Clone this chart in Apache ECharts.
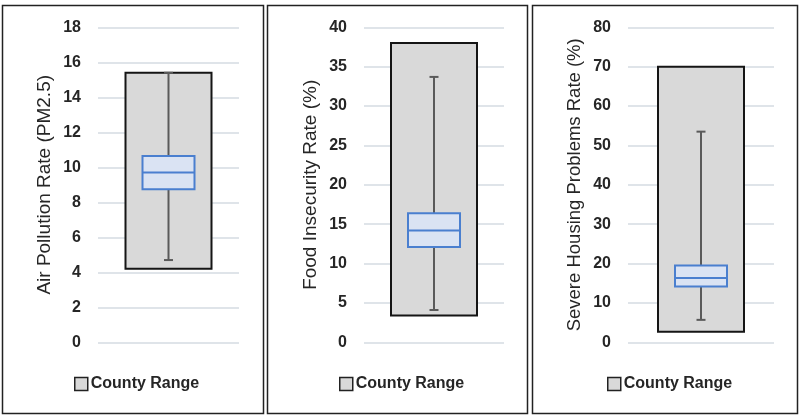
<!DOCTYPE html>
<html>
<head>
<meta charset="utf-8">
<script src="https://cdn.jsdelivr.net/npm/echarts@6/dist/echarts.min.js"></script>
<style>html,body{margin:0;padding:0;background:#fff}#c{width:800px;height:417px}</style>
</head>
<body>
<div id="c"></div>
<script>
// ---- data ----
const axisTitles = ['Air Pollution Rate (PM2.5)', 'Food Insecurity Rate (%)', 'Severe Housing Problems Rate (%)'];
const axisMax = [18, 40, 80];
const axisInterval = [2, 5, 10];
const rangeMin = [4.2, 3.4, 2.7];
const rangeMax = [15.4, 38, 70];
const whiskerLow = [4.7, 4.1, 5.7];
const q1 = [8.75, 12.1, 14.2];
const median = [9.7, 14.2, 16.3];
const q3 = [10.65, 16.4, 19.5];
const whiskerHigh = [15.4, 33.7, 53.5];
const legendName = 'County Range';

// ---- layout ----
const grids = [
  {left: 98, width: 141},
  {left: 364, width: 140},
  {left: 628, width: 146}
];
const frames = [
  {x: 2.5, w: 261},
  {x: 267.5, w: 260},
  {x: 532.5, w: 265}
];
const legendLeft = [74, 339, 607];
const fontFam = '"Liberation Sans", Arial, sans-serif';

const chart = echarts.init(document.getElementById('c'));

function rangeRender(params, api) {
  const lo = api.coord([api.value(0), api.value(1)]);
  const hi = api.coord([api.value(0), api.value(2)]);
  const w = 86;
  return {
    type: 'rect',
    shape: {x: lo[0] - w / 2, y: hi[1], width: w, height: lo[1] - hi[1]},
    style: {fill: '#d9d9d9', stroke: '#151515', lineWidth: 2}
  };
}
function boxRender(params, api) {
  const x = api.value(0);
  const pLow = api.coord([x, api.value(1)]);
  const pQ1 = api.coord([x, api.value(2)]);
  const pMed = api.coord([x, api.value(3)]);
  const pQ3 = api.coord([x, api.value(4)]);
  const pHigh = api.coord([x, api.value(5)]);
  const cx = pLow[0];
  const bw = 52, cw = 9;
  const wStyle = {stroke: '#5a5a5a', lineWidth: 2};
  return {
    type: 'group',
    children: [
      {type: 'line', shape: {x1: cx, y1: pHigh[1], x2: cx, y2: pLow[1]}, style: wStyle},
      {type: 'line', shape: {x1: cx - cw / 2, y1: pHigh[1], x2: cx + cw / 2, y2: pHigh[1]}, style: wStyle},
      {type: 'line', shape: {x1: cx - cw / 2, y1: pLow[1], x2: cx + cw / 2, y2: pLow[1]}, style: wStyle},
      {type: 'rect', shape: {x: cx - bw / 2, y: pQ3[1], width: bw, height: pQ1[1] - pQ3[1]},
        style: {fill: '#dae3f3', stroke: '#4a7fcf', lineWidth: 2}},
      {type: 'line', shape: {x1: cx - bw / 2, y1: pMed[1], x2: cx + bw / 2, y2: pMed[1]},
        style: {stroke: '#4a7fcf', lineWidth: 2}}
    ]
  };
}

const option = {
  animation: false,
  backgroundColor: '#fff',
  grid: grids.map(g => ({left: g.left, width: g.width, top: 27.3, height: 315})),
  xAxis: grids.map((g, i) => ({
    type: 'category', gridIndex: i, data: ['County'],
    axisLine: {show: false}, axisTick: {show: false}, axisLabel: {show: false}, splitLine: {show: false}
  })),
  yAxis: grids.map((g, i) => ({
    type: 'value', gridIndex: i, min: 0, max: axisMax[i], interval: axisInterval[i],
    name: axisTitles[i], nameLocation: 'middle', nameGap: 44,
    nameTextStyle: {fontFamily: fontFam, fontSize: i === 2 ? 18.5 : 19, color: '#262626'},
    axisLine: {show: false}, axisTick: {show: false},
    axisLabel: {margin: 17, fontFamily: fontFam, fontSize: 16, fontWeight: 'bold', color: '#262626'},
    splitLine: {lineStyle: {color: '#d5dbe2', width: 1.5}}
  })),
  legend: legendLeft.map(l => ({
    left: l, top: 376, padding: 0, data: [legendName], icon: 'rect', itemWidth: 13, itemHeight: 13, itemGap: 5,
    selectedMode: false,
    itemStyle: {color: '#d9d9d9', borderColor: '#222', borderWidth: 1.5},
    textStyle: {fontFamily: fontFam, fontSize: 16, fontWeight: 'bold', color: '#262626', padding: [0, 0, 0, -2]}
  })),
  series: [].concat(
    grids.map((g, i) => ({
      type: 'custom', name: legendName, xAxisIndex: i, yAxisIndex: i,
      renderItem: rangeRender, itemStyle: {color: '#d9d9d9'},
      encode: {x: 0, y: [1, 2]},
      data: [[0, rangeMin[i], rangeMax[i]]], z: 2
    })),
    grids.map((g, i) => ({
      type: 'custom', name: 'Box', xAxisIndex: i, yAxisIndex: i,
      renderItem: boxRender,
      encode: {x: 0, y: [1, 2, 3, 4, 5]},
      data: [[0, whiskerLow[i], q1[i], median[i], q3[i], whiskerHigh[i]]], z: 3
    }))
  ),
  graphic: frames.map(f => ({
    type: 'rect', shape: {x: f.x, y: 5.5, width: f.w, height: 408},
    style: {fill: 'none', stroke: '#222', lineWidth: 1.5}, z: 10
  }))
};
chart.setOption(option);
</script>
</body>
</html>
